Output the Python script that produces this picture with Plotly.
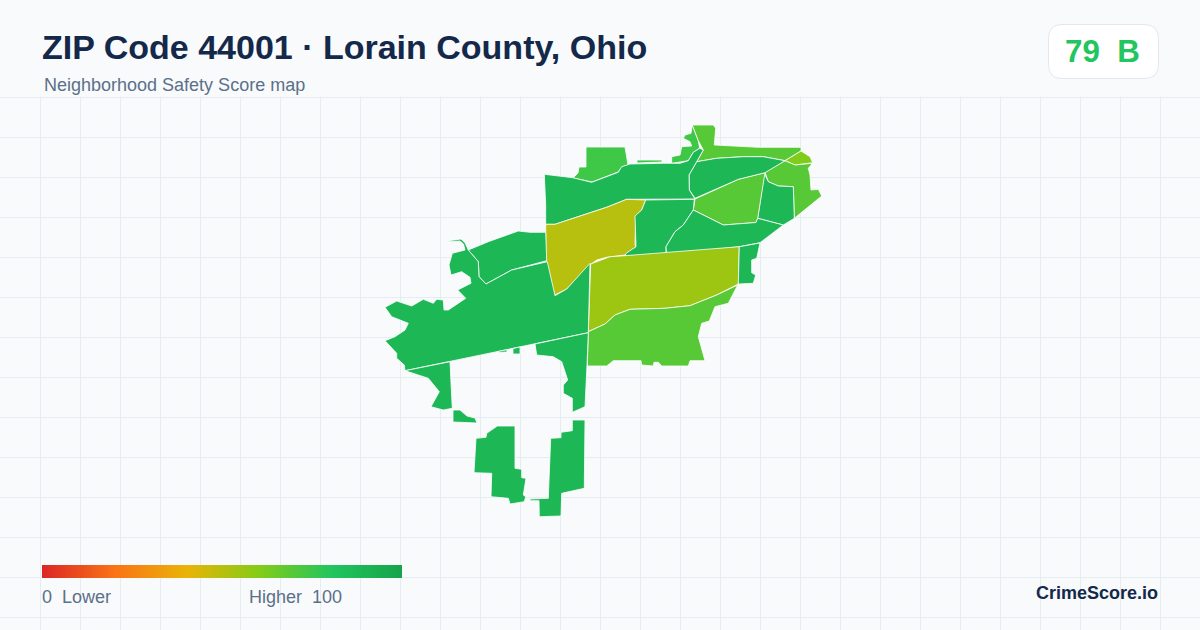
import plotly.graph_objects as go
from plotly.colors import sample_colorscale

title = 'ZIP Code 44001 · Lorain County, Ohio'
subtitle = 'Neighborhood Safety Score map'
score_text = '79  B'
brand = 'CrimeScore.io'

scale_colors = [[0.0, '#dc2626'], [0.2, '#f97316'], [0.4, '#eab308'],
                [0.6, '#84cc16'], [0.8, '#22c55e'], [1.0, '#16a34a']]
legend_values = list(range(0, 101))

grid_x = list(range(0, 1201, 40))
grid_y = list(range(97, 631, 40))

# zone outlines (map units = px of the 1200x630 frame)
north_patch = [(586, 147), (625, 147), (628, 165), (622, 167), (618, 172), (592, 182),
               (573, 178), (578, 173), (579, 167), (586, 167)]
north_strip = [(637, 160), (662, 160), (662, 162), (637, 163)]
lake_patch = [(692.3, 125), (698.3, 140.7), (699.7, 148.3), (693.3, 152.3), (688.3, 160.7),
              (671.7, 163.3), (671.7, 156.7), (680, 155), (681.7, 146.7), (691.7, 146),
              (690, 141.7), (683.3, 138.3), (685, 135), (691, 133.3)]
lake_shore = [(692.3, 125), (713.3, 125), (715.7, 128.3), (714.3, 145), (758.3, 147.3),
              (801, 147.3), (801, 151), (785, 160.7), (763.3, 156.7), (743.3, 156.7), (716.7, 158.3),
              (696.7, 161.7), (703.3, 150), (698.3, 140.7)]
east_tip = [(801, 151), (810, 156.7), (812.7, 162.7), (795, 165), (785, 160.7)]
east_edge = [(785, 160.7), (795, 165), (812.3, 163.3), (808.3, 168.3), (810, 175), (811, 190),
             (818.3, 189.3), (821.7, 196), (794.3, 218.3), (793.3, 186.7), (778.3, 186),
             (768.3, 181.7), (765, 172.3)]
east_block = [(764.3, 173.3), (768.3, 181.7), (778.3, 186), (793.3, 186.7), (794.3, 218.3),
              (783.3, 225), (757.7, 218.3), (761.7, 193.3)]
east_mid = [(765, 172.7), (738.3, 179.3), (695, 199), (693.3, 210), (723.3, 225), (756, 222.5),
            (757.7, 218.3), (761.7, 193.3)]
upper_center = [(696.7, 161.7), (716.7, 158.3), (743.3, 156.7), (763.3, 156.7), (785, 160.7),
                (765, 172.7), (738.3, 179.3), (695, 198.3), (689.3, 190), (689, 175)]
upper_west = [(544.3, 174.3), (572.7, 177.7), (591.7, 182.3), (618.3, 172.3), (621.7, 166.7),
              (630, 164), (663.3, 163.3), (680, 163.3), (688.3, 160.7), (693.3, 152.3), (699.7, 148.3),
              (703.3, 150), (696.7, 161.7), (689, 175), (689.3, 190), (695, 199), (626.7, 199.3),
              (606.7, 207.3), (570, 219.3), (555, 224.3), (545.7, 224.3), (545.7, 205)]
olive_zone = [(545.7, 224.3), (555, 224.3), (606.7, 207.3), (626.7, 199.3), (645.7, 200),
              (641.7, 210), (635.7, 216), (635, 245), (636, 246.7), (625, 255), (606.7, 257.3),
              (596.7, 260), (590, 265), (566.7, 289), (554.3, 295.3), (550, 281.7), (546, 261.7)]
center_zone = [(645.7, 200), (694.3, 199.3), (693.3, 210), (683.3, 225), (675, 231.7), (666, 246.7),
               (666, 255), (625, 256), (626, 253.3), (636, 246.7), (635, 216), (641.7, 210)]
lower_east = [(693.3, 210), (723.3, 225), (756, 222.5), (757.7, 218.3), (783.3, 225), (760, 242.7),
              (739.3, 246.7), (666.7, 255), (666, 246.7), (675, 231.7), (683.3, 225)]
yellow_zone = [(739.3, 246.7), (738.3, 284), (716.7, 295), (690, 305.7), (665, 308.3), (630, 309.3),
               (615, 315), (605, 324), (588.3, 331.7), (590.7, 264), (610, 256.7), (625, 255.7)]
south_mid = [(588.3, 331.7), (605, 324), (615, 315), (630, 309.3), (665, 308.3), (690, 305.7),
             (716.7, 295), (737.7, 285), (728.3, 303.3), (715, 306.7), (709.3, 321), (701.7, 323.3),
             (698.3, 336.7), (705, 360.7), (690, 360.7), (688.3, 366), (661.7, 366), (658.3, 362.3),
             (654, 362.3), (653.3, 366), (641.7, 365), (641, 360.7), (613.3, 360.7), (606.7, 366),
             (587.3, 366)]
east_sliver = [(739.3, 246.7), (760, 243), (756.7, 258.3), (751.7, 260), (751.7, 272.7), (755.7, 275),
               (753.3, 283.3), (738.3, 284)]
harbor_zone = [(468.3, 250), (488.3, 241.7), (518.3, 231), (530, 232.3), (545.7, 232.3), (546.7, 260.7),
               (511.7, 270), (486, 284), (479, 276.7), (478.3, 261.7)]
west_zone = [(449, 240.7), (461, 239), (465, 242.7), (468.3, 250), (478.3, 261.7), (479, 276.7),
             (486, 284), (511.7, 270), (547.3, 261.7), (555, 295.7), (566.7, 289), (590, 263.3),
             (588.3, 332.7), (405, 370.7), (404.3, 365), (396.7, 358.3), (396.7, 353.3), (385, 340.7),
             (395, 336.7), (405, 330), (408.3, 323.3), (391.7, 316.7), (385, 307.3), (396.7, 301),
             (411.7, 306), (423.3, 299.3), (433.3, 303.3), (436.7, 299.3), (443.3, 300), (444, 310),
             (448.3, 310), (465.7, 298.3), (457.7, 290), (471, 283.3), (470, 277.3), (461.7, 271.7),
             (451, 275), (449, 265), (452.3, 253.3), (465, 250), (463.5, 244), (460, 241), (449, 241.7)]
southwest_zone = [(405, 370.7), (450, 361.7), (451, 383.3), (452.3, 408.3), (443.3, 410), (431, 406.7),
                  (439.3, 391.7), (428.3, 378.3), (418.3, 375), (406.7, 371.7)]
south_arm = [(535, 344), (588.3, 332.7), (587, 365), (585, 406.7), (572.3, 412.3), (572.3, 398.3),
             (563.3, 393.3), (563.3, 385), (567.7, 380), (561.7, 361.7), (553.3, 356.7), (536.7, 355)]
south_bit = [(453, 410), (460, 410), (467, 416), (475, 418), (477, 423), (453, 422)]
south_square = [(513, 348.5), (520, 347), (520, 354), (513, 354)]
south_thin = [(498, 351.5), (507, 349.7), (507, 352), (498, 352.5)]
south_block_w = [(497.3, 426), (515, 426), (515, 468.3), (521.7, 469.3), (521.7, 477.7), (526, 478.3),
                 (523.3, 495), (525.7, 496.7), (524.3, 501.7), (510, 504), (508.3, 498.3), (491, 496.7),
                 (491.7, 473.3), (474, 472.7), (476, 438.3), (486, 437.3), (486.7, 433.3)]
south_block_e = [(572.3, 420), (585, 420), (584.3, 488.3), (561.7, 493.3), (561, 516), (539.3, 516.7),
                 (539, 500.7), (530, 500.7), (530, 499), (548.3, 498.3), (550.7, 438.3), (561, 437.7),
                 (561, 432.3), (572.3, 430.7)]

# estimated scores per zone
zones = [
    (north_patch, 74), (north_strip, 74), (lake_patch, 74), (lake_shore, 69), (east_tip, 61),
    (east_edge, 69), (east_block, 88), (east_mid, 69), (upper_center, 88), (upper_west, 88),
    (olive_zone, 50), (center_zone, 88), (lower_east, 88), (yellow_zone, 55), (south_mid, 69),
    (east_sliver, 88), (harbor_zone, 88), (west_zone, 88), (southwest_zone, 88), (south_arm, 88),
    (south_bit, 88), (south_square, 88), (south_thin, 88), (south_block_w, 88), (south_block_e, 88),
]

fig = go.Figure()

for points, score in zones:
    color = sample_colorscale(scale_colors, score / 100)[0]
    fig.add_trace(go.Scatter(
        x=[p[0] for p in points] + [points[0][0]],
        y=[p[1] for p in points] + [points[0][1]],
        mode='lines',
        fill='toself',
        fillcolor=color,
        line=dict(color='#ffffff', width=0.8),
        hoverinfo='skip',
        showlegend=False,
    ))

# gradient bar on its own little axes
fig.add_trace(go.Heatmap(
    x=legend_values,
    y=[0],
    z=[legend_values],
    zmin=0,
    zmax=100,
    colorscale=scale_colors,
    zsmooth='best',
    showscale=False,
    hoverinfo='skip',
    xaxis='x2',
    yaxis='y2',
))


def text(x, y, s, size, color, bold=False, anchor='left'):
    fig.add_annotation(
        x=x, y=y, text='<b>%s</b>' % s if bold else s,
        xref='x', yref='y', xanchor=anchor, yanchor='middle', showarrow=False,
        font=dict(family='Liberation Sans', size=size, color=color),
        borderpad=0,
    )


text(41, 47, title, 34, '#14294a', bold=True)
text(43, 85, subtitle, 18, '#5b7089')
text(1064, 51, score_text, 31.3, '#22c55e', bold=True)
text(41, 597, '0  Lower', 18, '#5b7089')
text(248, 597, 'Higher  100', 18, '#5b7089')
text(1159, 593, brand, 18, '#14294a', bold=True, anchor='right')

badge = ('M1062,24.5 H1144 Q1158.5,24.5 1158.5,38.5 V64.5 Q1158.5,78.5 1144,78.5 '
         'H1062 Q1048.5,78.5 1048.5,64.5 V38.5 Q1048.5,24.5 1062,24.5 Z')

fig.update_layout(
    width=1200,
    height=630,
    margin=dict(l=0, r=0, t=0, b=0),
    paper_bgcolor='#f8fafc',
    plot_bgcolor='#f8fafc',
    xaxis=dict(range=[0, 1200], domain=[0, 1], tickmode='array', tickvals=grid_x,
               showgrid=True, gridcolor='#e3edf2', gridwidth=1, zeroline=False,
               showticklabels=False, ticks=''),
    yaxis=dict(range=[630, 0], domain=[0, 1], tickmode='array', tickvals=grid_y,
               showgrid=True, gridcolor='#e3edf2', gridwidth=1, zeroline=False,
               showticklabels=False, ticks=''),
    xaxis2=dict(domain=[42 / 1200, 402 / 1200], range=[0, 100], visible=False, anchor='y2'),
    yaxis2=dict(domain=[1 - 578 / 630, 1 - 565 / 630], range=[-0.5, 0.5], visible=False, anchor='x2'),
    shapes=[
        # hides the vertical grid behind the header
        dict(type='rect', xref='x', yref='y', x0=0, x1=1200, y0=0, y1=96.5, layer='between',
             fillcolor='#f8fafc', line=dict(width=0)),
        dict(type='path', xref='x', yref='y', path=badge, layer='above',
             fillcolor='#ffffff', line=dict(color='#e2e8f0', width=1)),
    ],
)

fig.write_html('out.html', config=dict(displayModeBar=False),
               post_script="document.body.style.margin='0';")
